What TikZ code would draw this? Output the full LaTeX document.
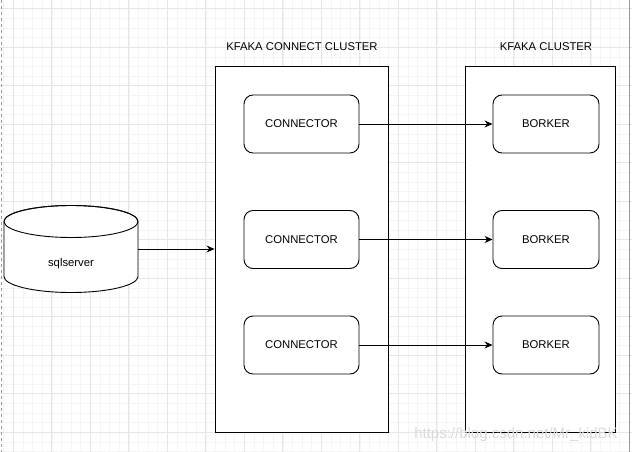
\documentclass[tikz,border=0pt]{standalone}
\usepackage{fontspec}
\setmainfont{Liberation Sans}
\usepackage{xcolor}
\usepackage{tikz}
\usetikzlibrary{shapes,arrows,arrows.meta,positioning}

\definecolor{gridminor}{HTML}{F4F4F4}
\definecolor{gridmajor}{HTML}{E6E6E6}
\definecolor{pageline}{HTML}{9A9A9A}
\definecolor{watermark}{HTML}{DADADA}

\begin{document}
\begin{tikzpicture}[x=1pt, y=-1pt, node distance=244.5pt, auto,
    font=\fontsize{11.3pt}{13pt}\selectfont,
    >={Stealth[length=8pt,width=7pt]},
    cluster/.style={draw, fill=white, line width=0.9pt, minimum height=366pt},
    worker/.style={draw, fill=white, rounded corners=9pt, line width=0.9pt, minimum height=58pt},
    db/.style={inner sep=0pt, outer sep=0pt, minimum width=134pt, minimum height=87pt}]
    \useasboundingbox (0,0) rectangle (632,452);

    % Grid
    \foreach \i in {-1,...,64}
        \draw[gridminor, line width=0.6pt] (13.3+9.625*\i,0) -- (13.3+9.625*\i,452);
    \foreach \i in {-1,...,46}
        \draw[gridminor, line width=0.6pt] (0,8.7+9.625*\i) -- (632,8.7+9.625*\i);
    \foreach \i in {0,...,16}
        \draw[gridmajor, line width=0.8pt] (13.3+38.5*\i,0) -- (13.3+38.5*\i,452);
    \foreach \i in {0,...,11}
        \draw[gridmajor, line width=0.8pt] (0,8.7+38.5*\i) -- (632,8.7+38.5*\i);
    \draw[pageline, dashed, line width=0.8pt] (1,0) -- (1,452);
    \draw[pageline, line width=0.8pt] (629,0) -- (629,452);

    % Clusters
    \node[cluster, minimum width=173pt] (connectcluster) at (301.5,249) {};
    \node[cluster, minimum width=150pt] (kafkacluster) at (540,249) {};
    \node (connectlabel) at (302,47) {KFAKA CONNECT CLUSTER};
    \node (kafkalabel) at (546,47) {KFAKA CLUSTER};

    % Workers
    \node[worker, minimum width=115pt] (conn1) at (301.5,124) {CONNECTOR};
    \node[worker, minimum width=115pt] (conn2) at (301.5,239.5) {CONNECTOR};
    \node[worker, minimum width=115pt] (conn3) at (301.5,345) {CONNECTOR};
    \node[worker, minimum width=106pt, right of=conn1] (broker1) {BORKER};
    \node[worker, minimum width=106pt, right of=conn2] (broker2) {BORKER};
    \node[worker, minimum width=106pt, right of=conn3] (broker3) {BORKER};

    % Source
    \node[db] (sqlserver) at (71,249) {};
    \draw[fill=white, line width=0.9pt] ([yshift=-16pt]sqlserver.north west)
        -- ([yshift=16pt]sqlserver.south west) arc[start angle=180, end angle=0, x radius=67, y radius=16]
        -- ([yshift=-16pt]sqlserver.north east) arc[start angle=0, end angle=-180, x radius=67, y radius=16] -- cycle;
    \draw[line width=0.9pt] ([yshift=-16pt]sqlserver.north) ellipse [x radius=67, y radius=16];
    \node (sqllabel) at (71,264) {sqlserver};

    % Links
    \path[->, line width=0.9pt]
        (sqlserver) edge (connectcluster)
        (conn1) edge (broker1)
        (conn2) edge (broker2)
        (conn3) edge (broker3);

    \node[watermark, font=\fontsize{15pt}{18pt}\selectfont] (mark) at (516,435) {https://blog.csdn.net/Mr\_kidBK};
\end{tikzpicture}
\end{document}
